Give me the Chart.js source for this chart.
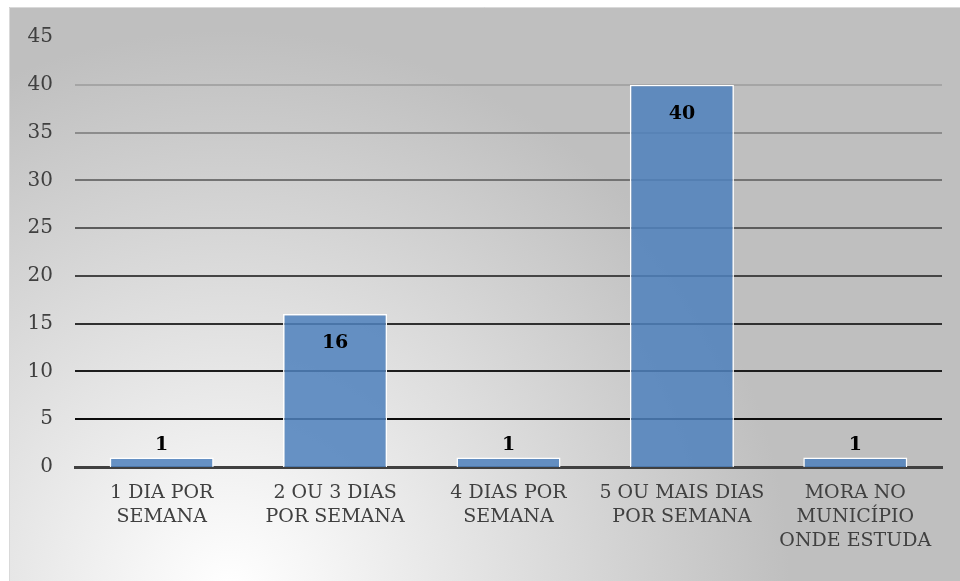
<!DOCTYPE html>
<html>
<head>
<meta charset="utf-8">
<script src="https://cdn.jsdelivr.net/npm/chart.js@4/dist/chart.umd.min.js"></script>
<style>
html,body{margin:0;padding:0;background:#ffffff;}
#wrap{position:absolute;left:0;top:0;width:960px;height:581px;}
</style>
</head>
<body>
<div id="wrap"><canvas id="c" width="960" height="581"></canvas></div>
<script>
const categories = [
  ["1 DIA POR", "SEMANA"],
  ["2 OU 3 DIAS", "POR SEMANA"],
  ["4 DIAS POR", "SEMANA"],
  ["5 OU MAIS DIAS", "POR SEMANA"],
  ["MORA NO", "MUNICÍPIO", "ONDE ESTUDA"]
];
const values = [1, 16, 1, 40, 1];
const yTicks = [0, 5, 10, 15, 20, 25, 30, 35, 40, 45];

const FONT = "'DejaVu Serif', 'Liberation Serif', serif";

const bgPlugin = {
  id: 'bg',
  beforeDraw(chart) {
    const c = chart.ctx;
    const W = chart.width, H = chart.height;
    c.save();
    c.fillStyle = '#ffffff';
    c.fillRect(0, 0, W, H);
    const g = c.createRadialGradient(230, 590, 0, 230, 590, 560);
    g.addColorStop(0, '#ffffff');
    g.addColorStop(0.15, '#f6f6f6');
    g.addColorStop(1, '#bfbfbf');
    c.fillStyle = g;
    c.fillRect(9, 7, W - 9, H - 7);
    c.strokeStyle = '#d9d9d9';
    c.lineWidth = 1;
    c.beginPath();
    c.moveTo(9.5, H);
    c.lineTo(9.5, 7.5);
    c.lineTo(W, 7.5);
    c.stroke();
    c.restore();
  }
};

const labelPlugin = {
  id: 'vlabels',
  afterDatasetsDraw(chart) {
    const c = chart.ctx;
    const meta = chart.getDatasetMeta(0);
    c.save();
    c.font = "bold 19px " + FONT;
    c.fillStyle = '#000000';
    c.textAlign = 'center';
    c.textBaseline = 'middle';
    meta.data.forEach((bar, i) => {
      const h = bar.base - bar.y;
      const y = h > 40 ? bar.y + 29 : bar.y - 12;
      c.fillText(String(values[i]), bar.x, y);
    });
    c.restore();
  }
};

function gridShade(v) {
  const t = Math.pow(v / 45, 1.25);
  const s = Math.round(191 * t);
  return 'rgb(' + s + ',' + s + ',' + s + ')';
}

new Chart(document.getElementById('c'), {
  type: 'bar',
  data: {
    labels: categories,
    datasets: [{
      data: values,
      backgroundColor: 'rgba(79,129,189,0.86)',
      borderColor: '#ffffff',
      borderWidth: 1.5,
      borderSkipped: 'bottom',
      categoryPercentage: 1.0,
      barPercentage: 0.6
    }]
  },
  options: {
    responsive: false,
    animation: false,
    devicePixelRatio: 1,
    layout: { padding: { top: 37, right: 18, left: 0, bottom: 0 } },
    plugins: { legend: { display: false }, tooltip: { enabled: false } },
    scales: {
      x: {
        grid: { display: false, drawTicks: false },
        border: { display: true, color: '#404040', width: 3 },
        ticks: {
          color: '#404040',
          font: { family: FONT, size: 19, lineHeight: 1.27 },
          padding: 14,
          maxRotation: 0,
          autoSkip: false
        },
        afterFit(scale) { scale.height = 114; }
      },
      y: {
        min: 0,
        max: 45,
        afterBuildTicks(scale) { scale.ticks = yTicks.map(v => ({ value: v })); },
        grid: {
          drawTicks: false,
          color: (ctx) => gridShade(ctx.tick ? ctx.tick.value : 0),
          lineWidth: (ctx) => (ctx.tick && (ctx.tick.value === 0 || ctx.tick.value === 45)) ? 0 : 2
        },
        border: { display: false },
        ticks: {
          color: '#404040',
          font: { family: FONT, size: 20 },
          padding: 22
        },
        afterFit(scale) { scale.width = 75; }
      }
    }
  },
  plugins: [bgPlugin, labelPlugin]
});
</script>
</body>
</html>
